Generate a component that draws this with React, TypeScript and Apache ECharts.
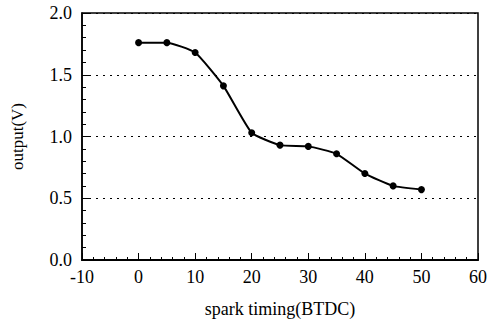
import React, { useEffect, useRef } from "react";
import * as echarts from "echarts";

const xValues = [0, 5, 10, 15, 20, 25, 30, 35, 40, 45, 50];
const yValues = [1.76, 1.76, 1.68, 1.41, 1.03, 0.93, 0.92, 0.86, 0.7, 0.6, 0.57];
const xAxisName = "spark timing(BTDC)";
const yAxisName = "output(V)";

export default function App() {
  const ref = useRef<HTMLDivElement>(null);
  useEffect(() => {
    if (!ref.current) return;
    const chart = echarts.init(ref.current, undefined, { renderer: "svg" });
    const font = "Liberation Serif";
    chart.setOption({
      animation: false,
      backgroundColor: "#fff",
      grid: {
        left: 82,
        right: 12,
        top: 13,
        bottom: 64,
        show: true,
        borderColor: "#000",
        borderWidth: 1.5,
        backgroundColor: "transparent",
      },
      xAxis: {
        type: "value",
        min: -10,
        max: 60,
        interval: 10,
        name: xAxisName,
        nameLocation: "middle",
        nameGap: 40,
        nameTextStyle: { fontFamily: font, fontSize: 18, color: "#000" },
        axisLine: { show: true, onZero: false, lineStyle: { color: "#000", width: 2 } },
        axisTick: { inside: true, length: 7, lineStyle: { color: "#000" } },
        minorTick: { show: true, splitNumber: 5, length: 3, lineStyle: { color: "#000" } },
        axisLabel: { fontFamily: font, fontSize: 18, color: "#000", margin: 8 },
        splitLine: { show: false },
      },
      yAxis: {
        type: "value",
        min: 0,
        max: 2,
        interval: 0.5,
        name: yAxisName,
        nameLocation: "middle",
        nameGap: 56,
        nameTextStyle: { fontFamily: font, fontSize: 17, color: "#000" },
        axisLine: { show: true, onZero: false, lineStyle: { color: "#000", width: 1.5 } },
        axisTick: { inside: true, length: 7, lineStyle: { color: "#000" } },
        minorTick: { show: true, splitNumber: 5, length: 4, lineStyle: { color: "#000" } },
        axisLabel: {
          fontFamily: font,
          fontSize: 18,
          color: "#000",
          margin: 10,
          formatter: (v: number) => v.toFixed(1),
        },
        splitLine: {
          show: true,
          lineStyle: { color: "#000", type: [2, 5], width: 1 },
        },
      },
      series: [
        {
          type: "line",
          data: xValues.map((x, i) => [x, yValues[i]]),
          smooth: 0.15,
          symbol: "circle",
          symbolSize: 7,
          lineStyle: { color: "#000", width: 2 },
          itemStyle: { color: "#000" },
        },
      ],
    });
    return () => chart.dispose();
  }, []);
  return <div ref={ref} style={{ width: 490, height: 324, position: "absolute", left: 0, top: 0 }} />;
}
